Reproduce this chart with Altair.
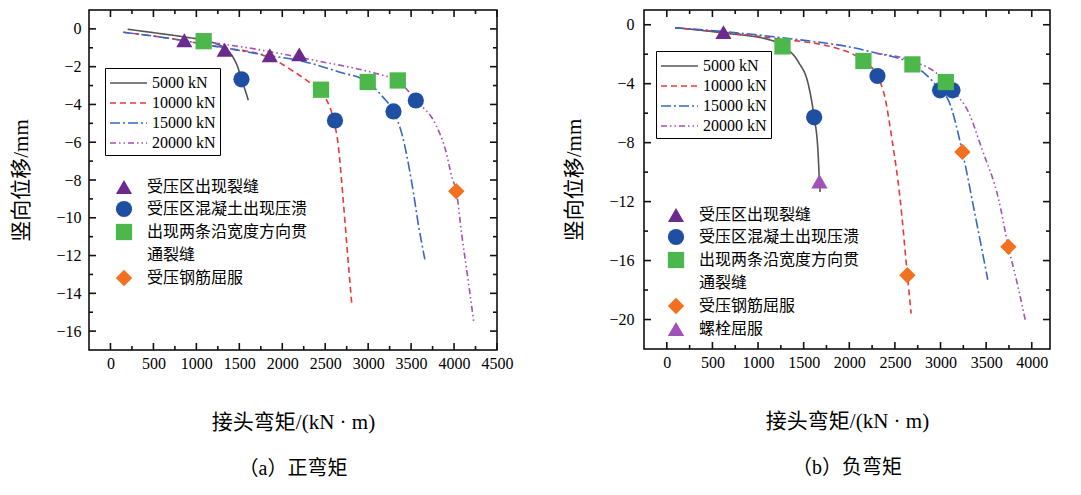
import altair as alt
import pandas as pd

SERIES = ['5000 kN', '10000 kN', '15000 kN', '20000 kN']
LINE_COLORS = ['#555555', '#e8383d', '#3567c4', '#a44fb4']
LINE_DASHES = [[1, 0], [6, 4], [10, 3, 2, 3], [6, 3, 1.5, 3, 1.5, 3]]

# the third event label wraps onto a second legend row ('通裂缝'), which has no marker
EVENTS = ['\u00a0受压区出现裂缝', '受压区混凝土出现压溃', '出现两条沿宽度方向贯', '通裂缝',
          '受压钢筋屈服', '\u00a0螺栓屈服']
EVENT_SHAPES = ['triangle-up', 'circle', 'square', 'square', 'diamond', 'triangle-up']
EVENT_COLORS = ['#6a2a8e', '#1f4fa3', '#4cb74a', 'rgba(0,0,0,0)', '#f2701f', '#a052b6']
EVENT_SIZES = [260, 270, 190, 10, 260, 260]

# (a) positive moment: joint moment (kN·m) vs vertical displacement (mm)
a_5000_m = [200, 500, 850, 1100, 1330, 1420, 1480, 1525, 1565, 1605]
a_5000_d = [-0.02, -0.2, -0.42, -0.62, -1.02, -1.45, -2.0, -2.67, -3.2, -3.78]
a_10000_m = [150, 500, 850, 1330, 1690, 1920, 2080, 2230, 2370, 2450, 2510, 2600, 2650, 2710, 2760, 2810]
a_10000_d = [-0.18, -0.38, -0.62, -1.02, -1.28, -1.66, -2.1, -2.55, -3.0, -3.22, -3.7, -4.85, -6.1, -9.1, -11.9, -14.6]
a_15000_m = [150, 500, 850, 1330, 1690, 2270, 2660, 2990, 3170, 3295, 3395, 3510, 3590, 3660]
a_15000_d = [-0.18, -0.38, -0.62, -1.0, -1.3, -1.75, -2.28, -2.81, -3.6, -4.37, -5.6, -8.2, -10.5, -12.2]
a_20000_m = [1000, 1170, 1600, 2080, 2470, 2860, 3170, 3345, 3555, 3790, 3900, 3976, 4026, 4090, 4170, 4228]
a_20000_d = [-0.6, -0.72, -1.0, -1.4, -1.75, -2.1, -2.46, -2.73, -3.79, -5.1, -6.4, -7.86, -8.6, -10.9, -13.5, -15.47]

a_ev = [0, 0, 0, 0, 1, 1, 1, 1, 2, 2, 2, 2, 4]
a_ev_m = [860, 1330, 1855, 2198, 1525, 2614, 3295, 3555, 1085, 2451, 2995, 3345, 4026]
a_ev_d = [-0.6, -1.1, -1.4, -1.35, -2.67, -4.85, -4.37, -3.79, -0.65, -3.22, -2.81, -2.73, -8.6]

# (b) negative moment
b_5000_m = [90, 620, 1150, 1268, 1443, 1553, 1615, 1655, 1673, 1680]
b_5000_d = [-0.2, -0.56, -1.06, -1.47, -2.53, -4.1, -6.28, -8.4, -10.6, -11.35]
b_10000_m = [90, 1150, 1880, 2155, 2309, 2393, 2466, 2557, 2637, 2678]
b_10000_d = [-0.2, -0.9, -1.63, -2.46, -3.48, -5.0, -7.7, -11.8, -17.0, -19.6]
b_15000_m = [90, 1150, 2247, 2692, 2904, 2995, 3087, 3240, 3379, 3518]
b_15000_d = [-0.2, -0.8, -1.85, -2.69, -3.77, -4.45, -5.13, -8.63, -12.9, -17.3]
b_20000_m = [2300, 2722, 2977, 3131, 3306, 3452, 3635, 3744, 3854, 3934]
b_20000_d = [-1.95, -2.53, -3.39, -4.45, -5.92, -8.4, -11.8, -15.07, -17.9, -20.2]

b_ev = [0, 1, 1, 1, 1, 2, 2, 2, 2, 4, 4, 4, 5]
b_ev_m = [621, 1615, 2309, 2995, 3131, 1268, 2155, 2692, 3058, 2637, 3240, 3744, 1673]
b_ev_d = [-0.5, -6.28, -3.48, -4.45, -4.45, -1.47, -2.46, -2.69, -3.89, -17.0, -8.63, -15.07, -10.62]

# tick positions
a_x_major = list(range(0, 4501, 500))
a_x_minor = list(range(250, 4500, 500))
a_y_major = list(range(-16, 1, 2))
a_y_minor = list(range(-15, 0, 2))
b_x_major = list(range(0, 4001, 500))
b_x_minor = list(range(250, 4200, 500))
b_y_major = list(range(-20, 1, 4))
b_y_minor = list(range(-18, 0, 4))

FONT = 'Liberation Serif, Noto Sans CJK SC'
MAJOR_LEN, MINOR_LEN = 7, 4


def curve_frame(ms, ds):
    rows = []
    for s, m, d in zip(SERIES, ms, ds):
        rows += [{'s': s, 'm': x, 'd': y} for x, y in zip(m, d)]
    return pd.DataFrame(rows)


def event_frame(idx, ms, ds):
    return pd.DataFrame({'e': [EVENTS[i] for i in idx], 'm': ms, 'd': ds})


def label_axis(values, title, label_pad, title_pad):
    return alt.Axis(values=values, domain=False, grid=False, ticks=False, tickSize=0,
                    labelFlush=False, labelOverlap=False, format='d',
                    labelPadding=label_pad, titlePadding=title_pad, title=title)


def inner_ticks(xs, ys, x_major, x_minor, y_major, y_minor, w, h):
    # ticks on all four sides, pointing into the plot
    layers = []
    for vals, n in [(x_major, MAJOR_LEN), (x_minor, MINOR_LEN)]:
        base = alt.Chart(pd.DataFrame({'v': vals})).mark_rule(color='#111111', strokeWidth=1.6)
        x = alt.X('v:Q', scale=xs)
        layers.append(base.encode(x=x, y=alt.value(0), y2=alt.value(n)))
        layers.append(base.encode(x=x, y=alt.value(h), y2=alt.value(h - n)))
    for vals, n in [(y_major, MAJOR_LEN), (y_minor, MINOR_LEN)]:
        base = alt.Chart(pd.DataFrame({'v': vals})).mark_rule(color='#111111', strokeWidth=1.6)
        y = alt.Y('v:Q', scale=ys)
        layers.append(base.encode(y=y, x=alt.value(0), x2=alt.value(n)))
        layers.append(base.encode(y=y, x=alt.value(w), x2=alt.value(w - n)))
    return layers


def panel(curves, events, n_ev, xdom, ydom, x_major, x_minor, y_major, y_minor,
          caption, w, h, line_leg_xy, ev_leg_xy, ylab_pad):
    xs = alt.Scale(domain=xdom, nice=False, zero=False)
    ys = alt.Scale(domain=ydom, nice=False, zero=False)
    line_leg = alt.Legend(title=None, orient='none', legendX=line_leg_xy[0], legendY=line_leg_xy[1],
                          strokeColor='black', fillColor='white', padding=4,
                          symbolType='M-1,0L2.7,0', symbolSize=400, symbolStrokeWidth=1.6,
                          labelFontSize=16, labelFont=FONT, labelColor='black',
                          labelOffset=21, rowPadding=1)
    lines = alt.Chart(curves).mark_line(interpolate='monotone', strokeWidth=1.6).encode(
        x=alt.X('m:Q', scale=xs, axis=label_axis(x_major, '接头弯矩/(kN · m)', 5, 40)),
        y=alt.Y('d:Q', scale=ys, axis=label_axis(y_major, '竖向位移/mm', ylab_pad, 24)),
        color=alt.Color('s:N', scale=alt.Scale(domain=SERIES, range=LINE_COLORS), legend=line_leg),
        strokeDash=alt.StrokeDash('s:N', scale=alt.Scale(domain=SERIES, range=LINE_DASHES),
                                  legend=line_leg),
    )
    ev_dom = EVENTS[:n_ev]
    ev_leg = alt.Legend(title=None, orient='none', legendX=ev_leg_xy[0], legendY=ev_leg_xy[1],
                        padding=0, labelFontSize=16, labelFont=FONT, labelColor='black',
                        labelOffset=14, rowPadding=5, labelLimit=400)
    pts = alt.Chart(events).mark_point(filled=True, opacity=1).encode(
        x=alt.X('m:Q', scale=xs),
        y=alt.Y('d:Q', scale=ys),
        shape=alt.Shape('e:N', scale=alt.Scale(domain=ev_dom, range=EVENT_SHAPES[:n_ev]), legend=ev_leg),
        color=alt.Color('e:N', scale=alt.Scale(domain=ev_dom, range=EVENT_COLORS[:n_ev]), legend=ev_leg),
        size=alt.Size('e:N', scale=alt.Scale(domain=ev_dom, range=EVENT_SIZES[:n_ev]), legend=ev_leg),
    )
    ticks = inner_ticks(xs, ys, x_major, x_minor, y_major, y_minor, w, h)
    return alt.layer(lines, pts, *ticks).resolve_scale(
        color='independent', shape='independent', size='independent', strokeDash='independent'
    ).properties(
        width=w, height=h,
        title=alt.TitleParams(caption, orient='bottom', offset=27, fontSize=20,
                              font=FONT, fontWeight='normal', color='black'),
    )


left = panel(curve_frame([a_5000_m, a_10000_m, a_15000_m, a_20000_m],
                         [a_5000_d, a_10000_d, a_15000_d, a_20000_d]),
             event_frame(a_ev, a_ev_m, a_ev_d), 5,
             [-250, 4500], [-17, 1], a_x_major, a_x_minor, a_y_major, a_y_minor,
             '（a）正弯矩', 408, 340, (16, 58), (26, 168), 8)

right = panel(curve_frame([b_5000_m, b_10000_m, b_15000_m, b_20000_m],
                          [b_5000_d, b_10000_d, b_15000_d, b_20000_d]),
              event_frame(b_ev, b_ev_m, b_ev_d), 6,
              [-250, 4200], [-22, 1], b_x_major, b_x_minor, b_y_major, b_y_minor,
              '（b）负弯矩', 406, 339, (12, 41), (23, 196), 10)

chart = alt.hconcat(left, right, spacing=49).resolve_scale(
    color='independent', shape='independent', size='independent', strokeDash='independent'
).properties(
    padding={'left': 2, 'top': 0, 'right': 4, 'bottom': 4}, background='white'
).configure_view(
    stroke='black', strokeWidth=1.5
).configure_axis(
    labelFont='Liberation Serif', labelFontSize=16, labelColor='black',
    titleFont=FONT, titleFontSize=21, titleFontWeight='normal', titleColor='black'
)

chart.save('out.html', embed_options={'renderer': 'svg', 'actions': False})
